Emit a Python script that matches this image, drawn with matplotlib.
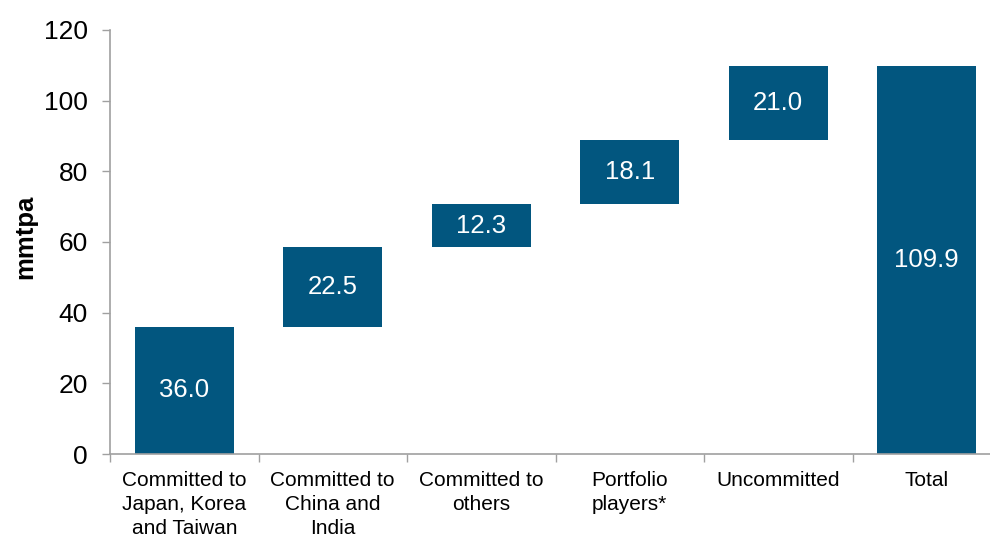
import matplotlib
matplotlib.use("Agg")
import matplotlib.pyplot as plt
import numpy as np

categories = ["Committed to\nJapan, Korea\nand Taiwan", "Committed to\nChina and\nIndia",
              "Committed to\nothers", "Portfolio\nplayers*", "Uncommitted", "Total"]
values = [36.0, 22.5, 12.3, 18.1, 21.0, 109.9]
is_total = [False, False, False, False, False, True]

plt.rcParams['font.family'] = ['Liberation Sans', 'DejaVu Sans']
color = '#02567F'
grey = '#A0A0A0'

# waterfall bottoms: running total of the steps before, totals start at 0
bottoms = []
running = 0.0
for v, tot in zip(values, is_total):
    if tot:
        bottoms.append(0.0)
    else:
        bottoms.append(running)
        running += v

fig = plt.figure(figsize=(9.9, 5.34), dpi=100)
ax = fig.add_axes([110 / 990, 1 - 454 / 534, 891 / 990, 424 / 534])

x = np.arange(len(categories))
bars = ax.bar(x, values, bottom=bottoms, width=0.67, color=color)

for b, v in zip(bars, values):
    ax.text(b.get_x() + b.get_width() / 2, b.get_y() + b.get_height() / 2, f"{v:.1f}",
            ha='center', va='center', color='white', fontsize=18.5)

ax.set_xlim(-0.5, len(categories) - 0.5)
ax.set_ylim(0, 120)
ax.set_yticks(range(0, 121, 20))
ax.tick_params(axis='y', labelsize=19, length=6, width=1, color=grey, pad=10)

ax.set_xticks(x)
ax.set_xticklabels(categories, fontsize=15, linespacing=1.32, va='top')
ax.tick_params(axis='x', which='major', length=0, pad=12.5)
ax.set_xticks(np.arange(-0.5, len(categories)), minor=True)
ax.tick_params(axis='x', which='minor', length=6, width=1, color=grey)

ax.set_ylabel('mmtpa', fontsize=18.5, fontweight='bold')
ax.yaxis.set_label_coords(-73 / 891, (454 - 236.5) / 424)

for s in ['top', 'right']:
    ax.spines[s].set_visible(False)
for s in ['left', 'bottom']:
    ax.spines[s].set_color(grey)
    ax.spines[s].set_linewidth(1.2)

plt.savefig("out.png", dpi=100)
